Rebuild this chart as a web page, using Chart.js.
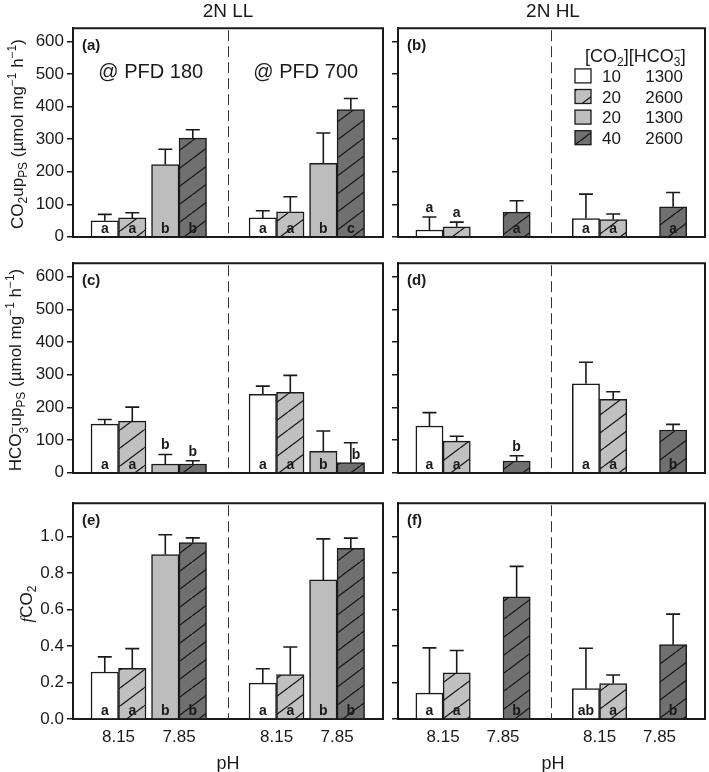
<!DOCTYPE html>
<html>
<head>
<meta charset="utf-8">
<script src="https://cdn.jsdelivr.net/npm/chart.js@4.4.1/dist/chart.umd.min.js"></script>
<style>
  body { margin: 0; background: #fff; font-family: "Liberation Sans", Arial, sans-serif; color: #1a1a1a; }
  #wrap { position: relative; width: 709px; height: 772px; overflow: hidden; }
  canvas { position: absolute; }
  .t { position: absolute; white-space: nowrap; transform: translate(-50%, -50%); }
  .rot { transform: translate(-50%, -50%) rotate(-90deg); font-size: 17px; }
  sub, sup { font-size: 0.7em; line-height: 0; }
  .ss { display: inline-block; font-size: 0.7em; line-height: 0.95; vertical-align: -0.55em; }
  .ss span { display: block; }
</style>
</head>
<body>
<div id="wrap"></div>
<script>
// pH categories and treatments ([CO2] / [HCO3-])
const phLabels = ['8.15', '7.85'];
const co2Levels = ['10', '20', '20', '40'];
const hco3Levels = ['1300', '2600', '1300', '2600'];

// each array: first block (PFD 180 / left), then second block (PFD 700 / right), 4 treatments each
const co2LL = [49, 58, 222, 303, 58, 77, 226, 391];
const co2LLsd = [20, 16, 47, 26, 22, 46, 93, 34];
const co2LLlet = ['a', 'a', 'b', 'b', 'a', 'a', 'b', 'c'];

const co2HL = [21, 31, null, 76, 56, 53, null, 92];
const co2HLsd = [40, 14, null, 35, 75, 17, null, 44];
const co2HLlet = ['a', 'a', '', 'a', 'a', 'a', '', 'a'];

const hco3LL = [149, 158, 27, 27, 240, 246, 66, 31];
const hco3LLsd = [14, 43, 29, 10, 25, 52, 62, 61];
const hco3LLlet = ['a', 'a', 'b', 'b', 'a', 'a', 'b', 'b'];

const hco3HL = [143, 97, null, 36, 272, 225, null, 131];
const hco3HLsd = [41, 15, null, 16, 66, 23, null, 17];
const hco3HLlet = ['a', 'a', '', 'b', 'a', 'a', '', 'b'];

const fco2LL = [0.257, 0.277, 0.90, 0.966, 0.196, 0.243, 0.761, 0.934];
const fco2LLsd = [0.083, 0.108, 0.108, 0.025, 0.079, 0.151, 0.225, 0.056];
const fco2LLlet = ['a', 'a', 'b', 'b', 'a', 'a', 'b', 'b'];

const fco2HL = [0.142, 0.252, null, 0.668, 0.166, 0.194, null, 0.407];
const fco2HLsd = [0.247, 0.123, null, 0.167, 0.221, 0.047, null, 0.167];
const fco2HLlet = ['a', 'a', '', 'b', 'ab', 'a', '', 'b'];

const FAM = "'Liberation Sans', Arial, sans-serif";
const INK = '#1a1a1a';
Chart.defaults.font.family = FAM;
Chart.defaults.color = INK;

// x layout in bar-width units
const X0 = 1.155, G = 2.2, H = 5.745, XMAX = 11.27;
const barX = (h, d) => X0 + h * H + (d >> 1) * G + (d & 1);
const tickX = [0, 1].flatMap(h => [0, 1].map(g => X0 + 0.5 + h * H + g * G));
const DIV = X0 + (G + H + 1) / 2;

function hatch(bg) {
  const c = document.createElement('canvas');
  c.width = 24; c.height = 18;
  const g = c.getContext('2d');
  g.fillStyle = bg;
  g.fillRect(0, 0, 24, 18);
  g.strokeStyle = INK;
  g.lineWidth = 1.3;
  g.beginPath();
  for (const o of [-24, 0, 24]) {
    g.moveTo(o, 18);
    g.lineTo(o + 24, 0);
  }
  g.stroke();
  return g.createPattern(c, 'repeat');
}
const fills = ['#ffffff', hatch('#c0c0c0'), '#bdbdbd', hatch('#707070')];

const rows = [
  { top: 15, h: 235, xh: 6, showX: false },
  { top: 250, h: 236, xh: 6, showX: false },
  { top: 490, h: 264, xh: 35, showX: true }
];
const cols = [
  { left: 0, w: 385, yw: 73, showY: true },
  { left: 388, w: 319, yw: 10, showY: false }
];

const panels = [
  { id: '(a)', mean: co2LL, sd: co2LLsd, lett: co2LLlet, row: 0, col: 0, max: 641, step: 100, pfd: true },
  { id: '(b)', mean: co2HL, sd: co2HLsd, lett: co2HLlet, row: 0, col: 1, max: 641, step: 100, legend: true,
    letPos: { 0: 'top', 1: 'top' } },
  { id: '(c)', mean: hco3LL, sd: hco3LLsd, lett: hco3LLlet, row: 1, col: 0, max: 641, step: 100,
    letPos: { 2: 'top', 3: 'top', 7: 'side' } },
  { id: '(d)', mean: hco3HL, sd: hco3HLsd, lett: hco3HLlet, row: 1, col: 1, max: 641, step: 100,
    letPos: { 3: 'top' } },
  { id: '(e)', mean: fco2LL, sd: fco2LLsd, lett: fco2LLlet, row: 2, col: 0, max: 1.181, step: 0.2, dec: 1 },
  { id: '(f)', mean: fco2HL, sd: fco2HLsd, lett: fco2HLlet, row: 2, col: 1, max: 1.181, step: 0.2, dec: 1 }
];

const wrap = document.getElementById('wrap');

function drawLegend(ctx, a) {
  const r = a.right;
  ctx.fillStyle = INK;
  ctx.textAlign = 'left';
  // header [CO2][HCO3-]
  let x = r - 120;
  const yb = a.top + 34;
  const seg = (t, size, dy) => {
    ctx.font = size + 'px ' + FAM;
    ctx.fillText(t, x, yb + dy);
    return ctx.measureText(t).width;
  };
  x += seg('[CO', 18, 0);
  x += seg('2', 12, 4);
  x += seg('][HCO', 18, 0);
  const w3 = seg('3', 12, 4);
  const wm = seg('\u2212', 12, -8);
  x += Math.max(w3, wm);
  seg(']', 18, 0);

  ctx.font = '17px ' + FAM;
  for (let d = 0; d < 4; d++) {
    const cy = a.top + 47.7 + d * 20.6;
    ctx.fillStyle = fills[d];
    ctx.fillRect(r - 130, cy - 7, 16, 14);
    ctx.strokeStyle = INK;
    ctx.lineWidth = 1.3;
    ctx.strokeRect(r - 130, cy - 7, 16, 14);
    ctx.fillStyle = INK;
    ctx.textAlign = 'left';
    ctx.fillText(co2Levels[d], r - 103, cy + 6);
    ctx.textAlign = 'right';
    ctx.fillText(hco3Levels[d], r - 22, cy + 6);
  }
}

function makePanel(p) {
  const row = rows[p.row], col = cols[p.col];
  const cv = document.createElement('canvas');
  cv.width = col.w;
  cv.height = row.h;
  cv.style.left = col.left + 'px';
  cv.style.top = row.top + 'px';
  wrap.appendChild(cv);

  const datasets = fills.map((f, d) => ({
    label: co2Levels[d] + ' / ' + hco3Levels[d],
    data: [0, 1].map(h => ({ x: barX(h, d), y: p.mean[h * 4 + d] })),
    backgroundColor: f,
    borderColor: INK,
    borderWidth: 1.5,
    grouped: false,
    categoryPercentage: 1,
    barPercentage: 1
  }));

  const deco = {
    id: 'deco',
    afterDatasetsDraw(chart) {
      const ctx = chart.ctx, ys = chart.scales.y, a = chart.chartArea;
      ctx.save();
      ctx.strokeStyle = INK;
      ctx.lineWidth = 1.6;
      ctx.fillStyle = INK;
      ctx.font = 'bold 14px ' + FAM;
      for (let d = 0; d < 4; d++) {
        const meta = chart.getDatasetMeta(d);
        for (let h = 0; h < 2; h++) {
          const i = h * 4 + d, m = p.mean[i];
          if (m == null) continue;
          const bx = meta.data[h].x;
          const yb = ys.getPixelForValue(m), yt = ys.getPixelForValue(m + p.sd[i]);
          ctx.beginPath();
          ctx.moveTo(bx, yb); ctx.lineTo(bx, yt);
          ctx.moveTo(bx - 7, yt); ctx.lineTo(bx + 7, yt);
          ctx.stroke();
          const L = p.lett[i];
          if (!L) continue;
          const pos = (p.letPos || {})[i] || 'in';
          if (pos === 'in') { ctx.textAlign = 'center'; ctx.fillText(L, bx, a.bottom - 4); }
          else if (pos === 'top') { ctx.textAlign = 'center'; ctx.fillText(L, bx, yt - 5); }
          else { ctx.textAlign = 'left'; ctx.fillText(L, bx + 1, yb - 4); }
        }
      }
      ctx.restore();
    },
    afterDraw(chart) {
      const ctx = chart.ctx, a = chart.chartArea, xs = chart.scales.x;
      ctx.save();
      // top and right of the frame
      ctx.strokeStyle = INK;
      ctx.lineWidth = 2;
      ctx.beginPath();
      ctx.moveTo(a.left - 1, a.top);
      ctx.lineTo(a.right, a.top);
      ctx.lineTo(a.right, a.bottom + 1);
      ctx.stroke();
      // dashed divider between the two blocks
      const dx = Math.round(xs.getPixelForValue(DIV)) + 0.5;
      ctx.strokeStyle = '#333';
      ctx.lineWidth = 1;
      ctx.setLineDash([11, 5]);
      ctx.beginPath();
      ctx.moveTo(dx, a.top + 2);
      ctx.lineTo(dx, a.bottom);
      ctx.stroke();
      ctx.setLineDash([]);
      // panel letter
      ctx.fillStyle = INK;
      ctx.font = 'bold 15px ' + FAM;
      ctx.textAlign = 'left';
      ctx.textBaseline = 'middle';
      ctx.fillText(p.id, a.left + 9, a.top + 18);
      ctx.textBaseline = 'alphabetic';
      if (p.pfd) {
        ctx.font = '20px ' + FAM;
        ctx.textAlign = 'center';
        ctx.fillText('@ PFD 180', (a.left + dx) / 2, a.top + 50);
        ctx.fillText('@ PFD 700', (dx + a.right) / 2, a.top + 50);
      }
      if (p.legend) drawLegend(ctx, a);
      ctx.restore();
    }
  };

  new Chart(cv, {
    type: 'bar',
    data: { datasets },
    options: {
      responsive: false,
      animation: false,
      devicePixelRatio: 1,
      layout: { padding: { top: 10, right: 2, left: 0, bottom: 0 } },
      plugins: { legend: { display: false }, tooltip: { enabled: false } },
      scales: {
        x: {
          type: 'linear',
          min: 0,
          max: XMAX,
          offset: false,
          grid: { display: false, drawTicks: false },
          border: { display: true, color: INK, width: 2 },
          afterBuildTicks: s => { s.ticks = tickX.map(v => ({ value: v })); },
          afterFit: s => { s.height = row.xh; },
          ticks: {
            display: row.showX,
            autoSkip: false,
            maxRotation: 0,
            padding: 8,
            font: { size: 17 },
            color: INK,
            callback: (v, i) => phLabels[i % 2]
          }
        },
        y: {
          min: 0,
          max: p.max,
          afterFit: s => { s.width = col.yw; },
          grid: { display: true, drawOnChartArea: false, drawTicks: true, tickLength: 6, color: INK, lineWidth: 1.5 },
          border: { display: true, color: INK, width: 2 },
          ticks: {
            stepSize: p.step,
            includeBounds: false,
            padding: 3,
            font: { size: 17 },
            color: INK,
            callback: v => col.showY ? (p.dec ? v.toFixed(p.dec) : String(Math.round(v))) : ''
          }
        }
      }
    },
    plugins: [deco]
  });
}

panels.forEach(makePanel);

// outer titles
const texts = [
  { html: '2N LL', x: 228, y: 11, size: 19 },
  { html: '2N HL', x: 553, y: 11, size: 19 },
  { html: 'pH', x: 228, y: 763, size: 18 },
  { html: 'pH', x: 553, y: 763, size: 18 },
  { html: 'CO<sub>2</sub>up<sub>PS</sub> (\u00b5mol mg<sup>\u22121</sup> h<sup>\u22121</sup>)', x: 18, y: 134, rot: true },
  { html: 'HCO<span class="ss"><span>\u2212</span><span>3</span></span>up<sub>PS</sub> (\u00b5mol mg<sup>\u22121</sup> h<sup>\u22121</sup>)', x: 18, y: 370, rot: true },
  { html: '<i style="font-family:\'Liberation Serif\',serif">f</i>CO<sub>2</sub>', x: 27, y: 604, rot: true }
];
texts.forEach(t => {
  const el = document.createElement('div');
  el.className = 't' + (t.rot ? ' rot' : '');
  el.innerHTML = t.html;
  el.style.left = t.x + 'px';
  el.style.top = t.y + 'px';
  if (t.size) el.style.fontSize = t.size + 'px';
  wrap.appendChild(el);
});
</script>
</body>
</html>
